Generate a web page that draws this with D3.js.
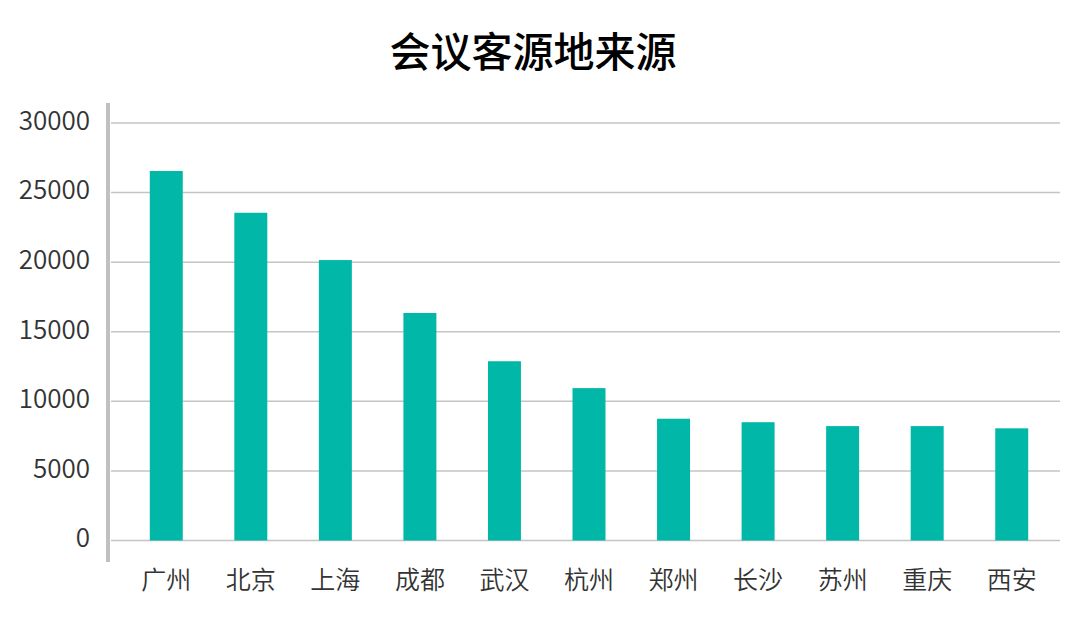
<!DOCTYPE html>
<html>
<head>
<meta charset="utf-8">
<script src="https://cdn.jsdelivr.net/npm/d3@7"></script>
<style>
  body { margin: 0; background: #fff; }
  svg { display: block; font-family: "Noto Sans CJK SC", "Noto Sans", sans-serif; }
</style>
</head>
<body>
<div id="chart"></div>
<script>
// chart data
const title = '会议客源地来源';
const cities = ['广州', '北京', '上海', '成都', '武汉', '杭州', '郑州', '长沙', '苏州', '重庆', '西安'];
const visitors = [26550, 23550, 20150, 16350, 12880, 10950, 8750, 8500, 8220, 8220, 8060];
const yTicks = [0, 5000, 10000, 15000, 20000, 25000, 30000];

const width = 1080, height = 622;

const svg = d3.select('#chart')
  .append('svg')
  .attr('width', width)
  .attr('height', height);

// scales
const x = d3.scaleBand()
  .domain(cities)
  .range([124, 1054])
  .paddingInner(0.61)
  .paddingOuter(0.305);

const y = d3.scaleLinear()
  .domain([0, 30000])
  .range([540.5, 123]);

// title
svg.append('text')
  .attr('x', 533)
  .attr('y', 67)
  .attr('text-anchor', 'middle')
  .attr('font-size', 41)
  .attr('font-weight', 500)
  .attr('fill', '#000')
  .text(title);

// y labels
const yAxis = d3.axisLeft(y)
  .tickValues(yTicks)
  .tickFormat(d3.format('d'))
  .tickSize(0)
  .tickPadding(0);

const yg = svg.append('g')
  .attr('transform', 'translate(90,0)')
  .call(yAxis);
yg.select('.domain').remove();
yg.selectAll('text')
  .attr('font-size', 26)
  .attr('font-weight', 350)
  .attr('fill', '#333')
  .attr('font-family', '"Noto Sans CJK SC", sans-serif')
  .attr('dy', '0.24em');

// gridlines
svg.append('g')
  .selectAll('line')
  .data(yTicks)
  .join('line')
    .attr('x1', 111)
    .attr('x2', 1060)
    .attr('y1', d => y(d))
    .attr('y2', d => y(d))
    .attr('stroke', '#c4c4c4')
    .attr('stroke-width', 1.5);

// left axis bar
svg.append('line')
  .attr('x1', 108)
  .attr('x2', 108)
  .attr('y1', 103)
  .attr('y2', 562)
  .attr('stroke', '#c0c0c0')
  .attr('stroke-width', 4);

// bars
svg.append('g')
  .selectAll('rect')
  .data(cities)
  .join('rect')
    .attr('x', d => x(d))
    .attr('width', x.bandwidth())
    .attr('y', (d, i) => y(visitors[i]))
    .attr('height', (d, i) => y(0) - y(visitors[i]))
    .attr('fill', '#00b7a8');

// x labels
const xAxis = d3.axisBottom(x).tickSize(0).tickPadding(0);
const xg = svg.append('g')
  .attr('transform', 'translate(0,589)')
  .call(xAxis);
xg.select('.domain').remove();
xg.selectAll('text')
  .attr('font-size', 25)
  .attr('font-weight', 350)
  .attr('fill', '#333')
  .attr('font-family', '"Noto Sans CJK SC", sans-serif')
  .attr('dy', 0);
</script>
</body>
</html>
